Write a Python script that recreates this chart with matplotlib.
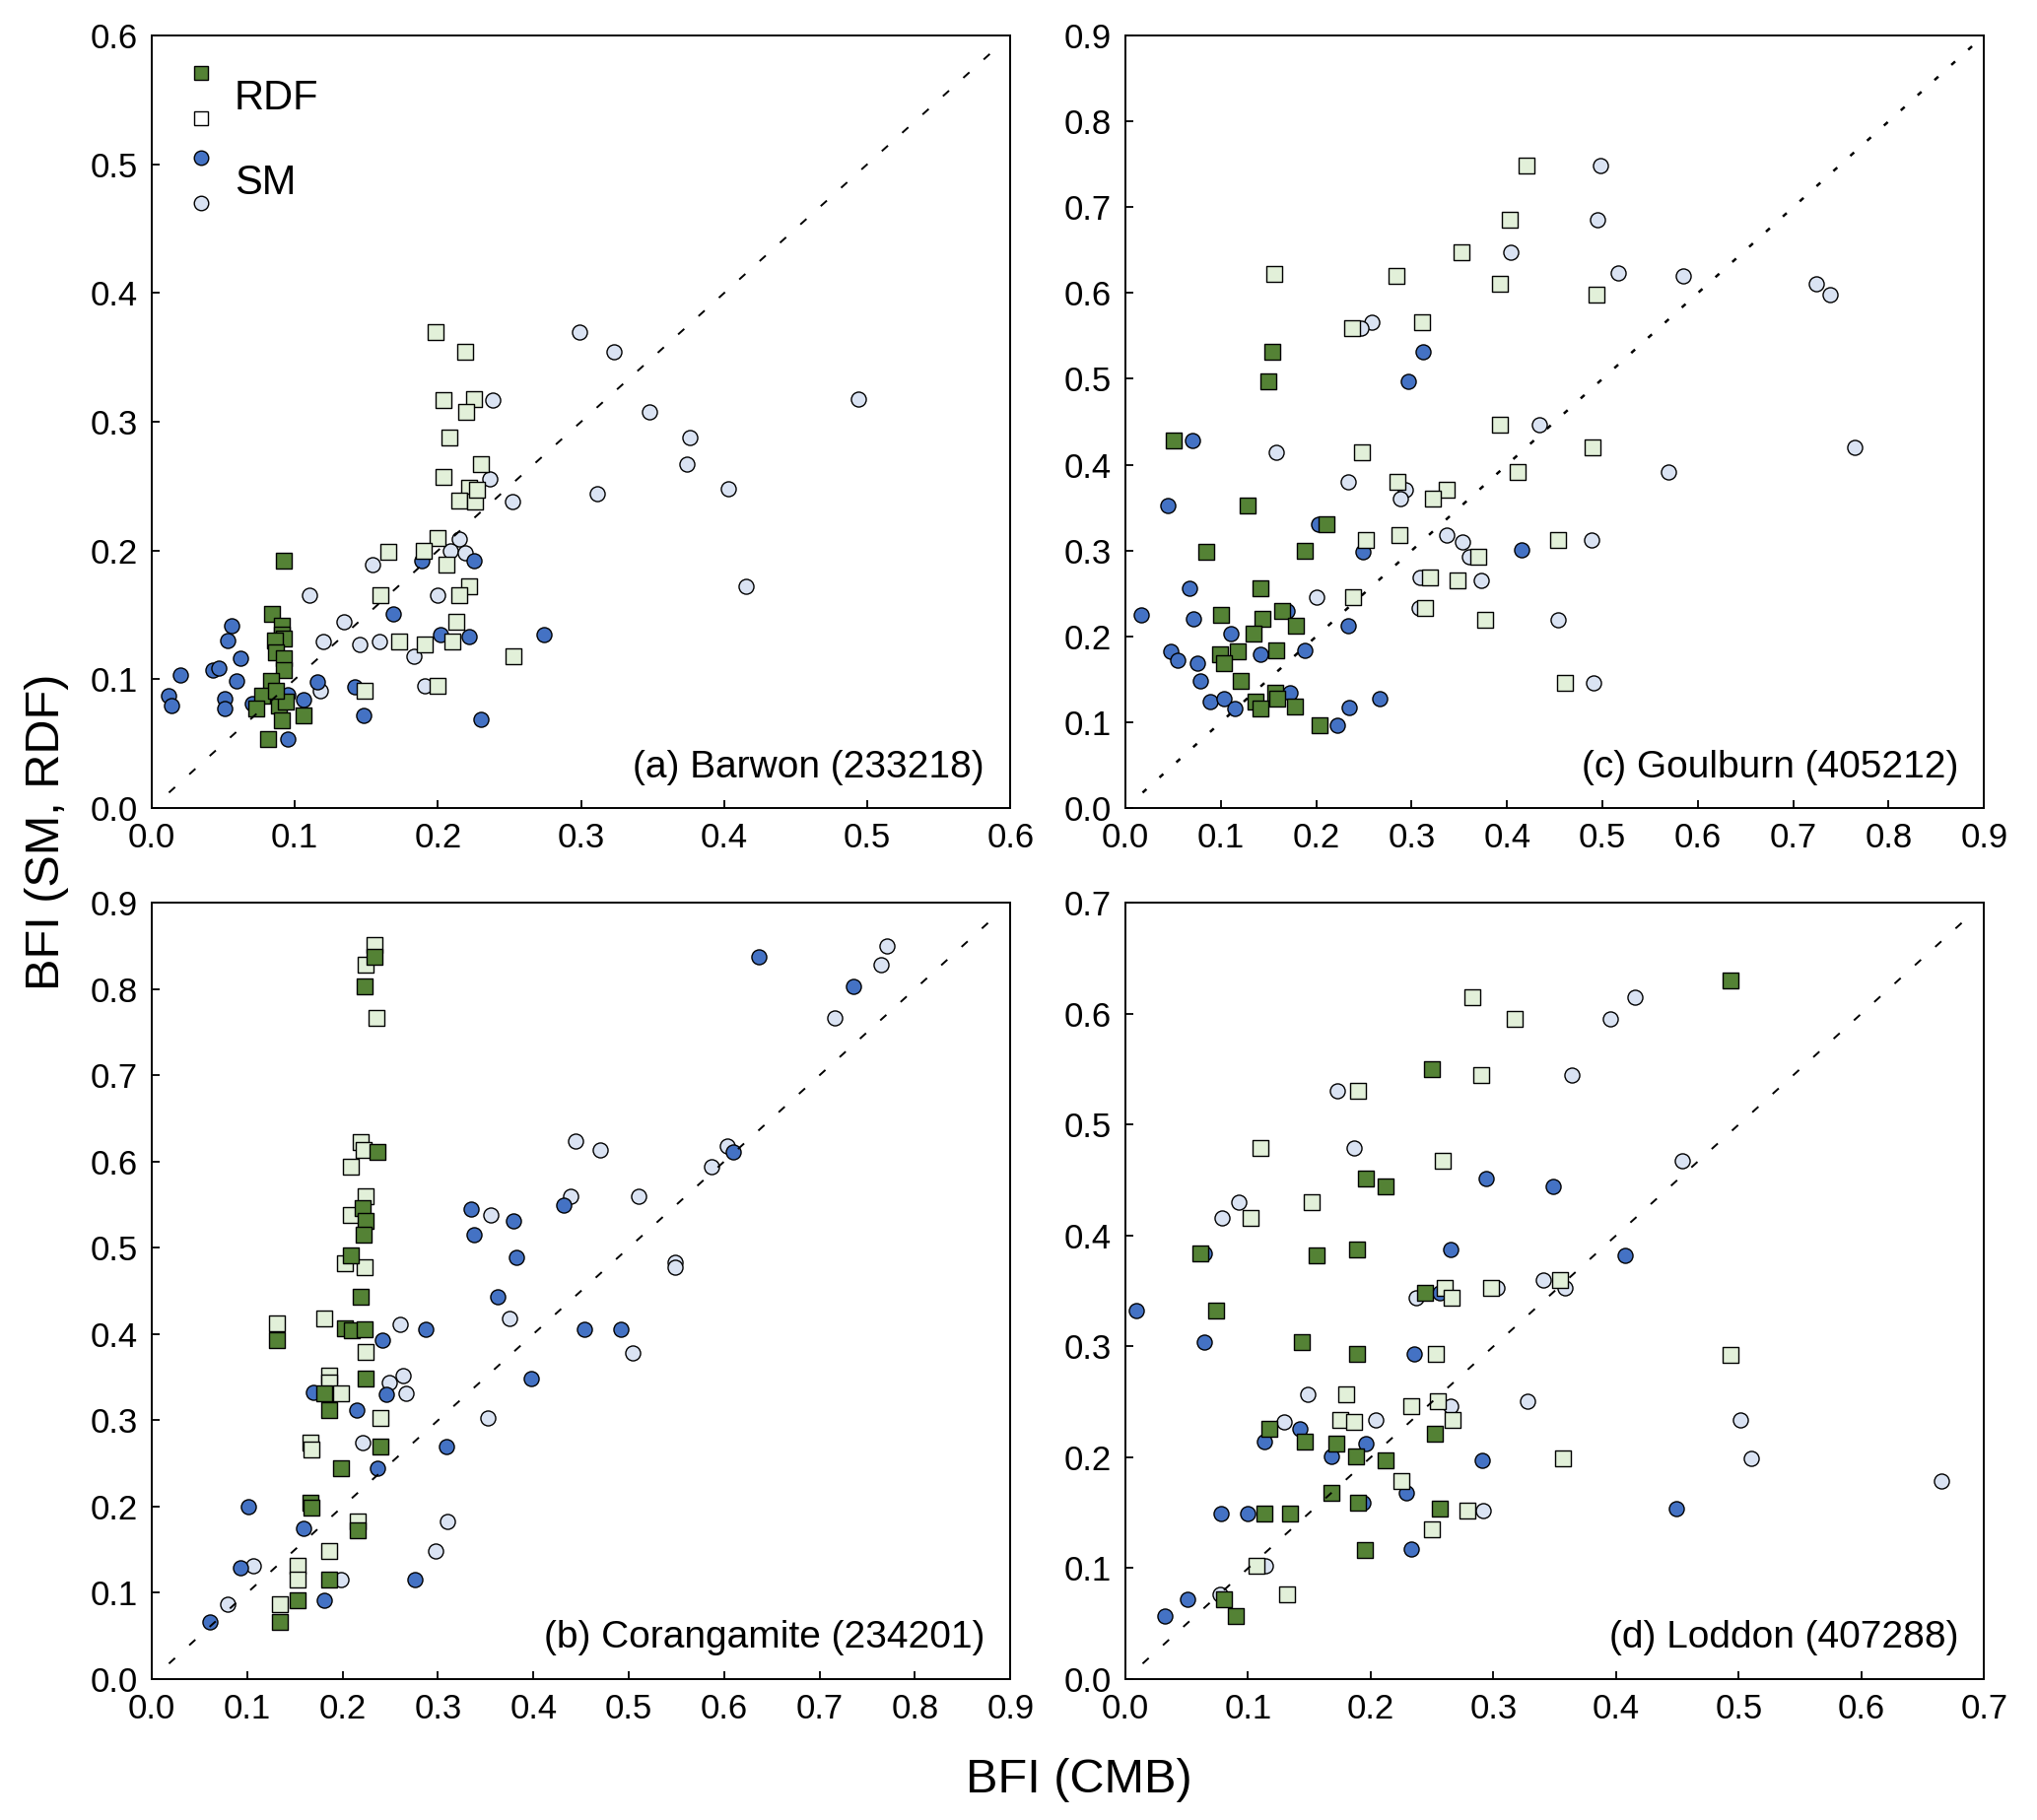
import numpy as np
import matplotlib
matplotlib.use("Agg")
import matplotlib.pyplot as plt
from matplotlib.lines import Line2D
from matplotlib.legend_handler import HandlerBase

plt.rcParams['font.family'] = ['Liberation Sans', 'DejaVu Sans']

# colours (excel-like)
GREEN = '#548235'
LGREEN = '#e2f0d9'
BLUE = '#4472c4'
LBLUE = '#dae3f3'

# ---- (a) Barwon
a_rdf_f_x = [0.092, 0.084, 0.091, 0.091, 0.092, 0.086, 0.087, 0.092, 0.092, 0.083, 0.077, 0.073, 0.089, 0.091, 0.081, 0.106, 0.094, 0.087]
a_rdf_f_y = [0.192, 0.151, 0.142, 0.135, 0.132, 0.130, 0.121, 0.116, 0.107, 0.099, 0.087, 0.077, 0.080, 0.068, 0.054, 0.072, 0.083, 0.091]
a_rdf_o_x = [0.198, 0.219, 0.204, 0.225, 0.220, 0.208, 0.230, 0.204, 0.222, 0.215, 0.226, 0.227, 0.200, 0.190, 0.165, 0.206, 0.222, 0.215, 0.160, 0.213, 0.173, 0.191, 0.210, 0.253, 0.200, 0.149]
a_rdf_o_y = [0.370, 0.354, 0.317, 0.318, 0.308, 0.288, 0.267, 0.257, 0.249, 0.239, 0.238, 0.247, 0.210, 0.200, 0.199, 0.189, 0.172, 0.165, 0.165, 0.145, 0.129, 0.127, 0.129, 0.118, 0.095, 0.091]
a_sm_o_x = [0.299, 0.323, 0.238, 0.494, 0.348, 0.376, 0.374, 0.236, 0.252, 0.311, 0.403, 0.415, 0.215, 0.209, 0.219, 0.154, 0.200, 0.110, 0.134, 0.120, 0.145, 0.159, 0.183, 0.191, 0.118]
a_sm_o_y = [0.370, 0.354, 0.317, 0.318, 0.308, 0.288, 0.267, 0.256, 0.238, 0.244, 0.248, 0.172, 0.209, 0.200, 0.198, 0.189, 0.165, 0.165, 0.145, 0.129, 0.127, 0.129, 0.118, 0.095, 0.091]
a_sm_f_x = [0.012, 0.014, 0.020, 0.043, 0.047, 0.056, 0.053, 0.062, 0.059, 0.051, 0.051, 0.070, 0.095, 0.095, 0.106, 0.116, 0.142, 0.148, 0.169, 0.189, 0.225, 0.202, 0.222, 0.274, 0.230]
a_sm_f_y = [0.087, 0.080, 0.103, 0.107, 0.109, 0.142, 0.130, 0.116, 0.099, 0.085, 0.077, 0.081, 0.088, 0.054, 0.084, 0.098, 0.094, 0.072, 0.151, 0.192, 0.192, 0.135, 0.133, 0.135, 0.069]

# ---- (b) Corangamite
b_rdf_f_x = [0.233, 0.223, 0.237, 0.221, 0.224, 0.222, 0.209, 0.219, 0.202, 0.210, 0.223, 0.131, 0.224, 0.181, 0.186, 0.240, 0.198, 0.166, 0.167, 0.216, 0.186, 0.153, 0.134]
b_rdf_f_y = [0.837, 0.803, 0.611, 0.546, 0.531, 0.515, 0.491, 0.443, 0.407, 0.404, 0.405, 0.393, 0.349, 0.331, 0.312, 0.270, 0.244, 0.204, 0.199, 0.172, 0.115, 0.091, 0.066]
b_rdf_o_x = [0.233, 0.224, 0.236, 0.219, 0.222, 0.209, 0.224, 0.209, 0.202, 0.223, 0.131, 0.181, 0.224, 0.186, 0.186, 0.198, 0.240, 0.166, 0.167, 0.216, 0.186, 0.153, 0.153, 0.134]
b_rdf_o_y = [0.851, 0.828, 0.767, 0.623, 0.613, 0.594, 0.560, 0.538, 0.482, 0.478, 0.412, 0.418, 0.379, 0.352, 0.344, 0.331, 0.303, 0.274, 0.266, 0.183, 0.148, 0.131, 0.115, 0.087]
b_sm_o_x = [0.771, 0.764, 0.716, 0.444, 0.470, 0.603, 0.587, 0.439, 0.510, 0.355, 0.549, 0.549, 0.375, 0.260, 0.504, 0.263, 0.249, 0.267, 0.352, 0.221, 0.310, 0.298, 0.106, 0.198, 0.080]
b_sm_o_y = [0.850, 0.828, 0.767, 0.624, 0.613, 0.618, 0.594, 0.560, 0.560, 0.538, 0.483, 0.478, 0.418, 0.411, 0.378, 0.352, 0.344, 0.331, 0.303, 0.274, 0.183, 0.148, 0.131, 0.115, 0.087]
b_sm_f_x = [0.636, 0.736, 0.609, 0.432, 0.335, 0.379, 0.338, 0.382, 0.363, 0.287, 0.454, 0.492, 0.242, 0.398, 0.169, 0.246, 0.215, 0.309, 0.237, 0.101, 0.159, 0.093, 0.276, 0.181, 0.061]
b_sm_f_y = [0.837, 0.803, 0.611, 0.550, 0.545, 0.531, 0.515, 0.489, 0.443, 0.405, 0.405, 0.406, 0.393, 0.349, 0.332, 0.330, 0.312, 0.270, 0.244, 0.200, 0.175, 0.129, 0.115, 0.091, 0.066]

# ---- (c) Goulburn
c_rdf_f_x = [0.051, 0.154, 0.150, 0.128, 0.085, 0.188, 0.211, 0.142, 0.100, 0.144, 0.164, 0.179, 0.134, 0.118, 0.158, 0.099, 0.103, 0.121, 0.136, 0.142, 0.157, 0.159, 0.178, 0.203]
c_rdf_f_y = [0.428, 0.531, 0.497, 0.353, 0.299, 0.300, 0.331, 0.256, 0.225, 0.220, 0.230, 0.212, 0.203, 0.183, 0.184, 0.179, 0.169, 0.148, 0.124, 0.116, 0.134, 0.127, 0.118, 0.097]
c_rdf_o_x = [0.420, 0.403, 0.352, 0.156, 0.284, 0.393, 0.494, 0.311, 0.238, 0.393, 0.248, 0.490, 0.411, 0.285, 0.337, 0.322, 0.252, 0.287, 0.453, 0.370, 0.319, 0.348, 0.239, 0.314, 0.377, 0.461]
c_rdf_o_y = [0.748, 0.685, 0.648, 0.622, 0.620, 0.611, 0.598, 0.566, 0.559, 0.447, 0.415, 0.420, 0.391, 0.380, 0.371, 0.361, 0.312, 0.318, 0.312, 0.293, 0.269, 0.265, 0.246, 0.233, 0.219, 0.146]
c_sm_o_x = [0.498, 0.495, 0.404, 0.516, 0.585, 0.724, 0.739, 0.258, 0.247, 0.434, 0.158, 0.764, 0.569, 0.233, 0.293, 0.288, 0.337, 0.353, 0.360, 0.489, 0.309, 0.373, 0.200, 0.308, 0.453, 0.491]
c_sm_o_y = [0.748, 0.685, 0.648, 0.623, 0.620, 0.611, 0.598, 0.566, 0.559, 0.447, 0.415, 0.420, 0.391, 0.380, 0.371, 0.361, 0.318, 0.310, 0.293, 0.312, 0.269, 0.265, 0.246, 0.233, 0.219, 0.146]
c_sm_f_x = [0.070, 0.312, 0.296, 0.044, 0.202, 0.249, 0.415, 0.067, 0.071, 0.016, 0.169, 0.233, 0.111, 0.048, 0.141, 0.188, 0.055, 0.075, 0.078, 0.089, 0.103, 0.115, 0.173, 0.234, 0.267, 0.222]
c_sm_f_y = [0.428, 0.531, 0.497, 0.353, 0.331, 0.299, 0.301, 0.256, 0.220, 0.225, 0.230, 0.212, 0.203, 0.183, 0.179, 0.184, 0.172, 0.169, 0.148, 0.124, 0.127, 0.116, 0.134, 0.117, 0.128, 0.097]

# ---- (d) Loddon
d_rdf_f_x = [0.493, 0.250, 0.196, 0.212, 0.061, 0.156, 0.189, 0.244, 0.074, 0.144, 0.189, 0.117, 0.146, 0.172, 0.188, 0.212, 0.252, 0.168, 0.190, 0.256, 0.113, 0.134, 0.195, 0.080, 0.090]
d_rdf_f_y = [0.630, 0.550, 0.451, 0.444, 0.384, 0.382, 0.387, 0.348, 0.332, 0.304, 0.293, 0.226, 0.214, 0.212, 0.201, 0.197, 0.221, 0.168, 0.159, 0.154, 0.149, 0.149, 0.116, 0.072, 0.057]
d_rdf_o_x = [0.283, 0.317, 0.290, 0.190, 0.110, 0.259, 0.152, 0.102, 0.260, 0.266, 0.298, 0.354, 0.253, 0.493, 0.180, 0.233, 0.255, 0.175, 0.186, 0.267, 0.357, 0.225, 0.279, 0.250, 0.107, 0.132]
d_rdf_o_y = [0.615, 0.595, 0.545, 0.530, 0.479, 0.467, 0.430, 0.416, 0.353, 0.344, 0.353, 0.360, 0.293, 0.292, 0.257, 0.246, 0.251, 0.234, 0.232, 0.234, 0.199, 0.179, 0.152, 0.135, 0.102, 0.076]
d_sm_o_x = [0.415, 0.395, 0.364, 0.173, 0.186, 0.454, 0.092, 0.079, 0.237, 0.303, 0.341, 0.358, 0.149, 0.265, 0.328, 0.129, 0.204, 0.501, 0.510, 0.665, 0.292, 0.114, 0.077]
d_sm_o_y = [0.615, 0.595, 0.545, 0.530, 0.479, 0.467, 0.430, 0.416, 0.344, 0.353, 0.360, 0.353, 0.257, 0.246, 0.251, 0.232, 0.234, 0.234, 0.199, 0.179, 0.152, 0.102, 0.076]
d_sm_f_x = [0.294, 0.349, 0.265, 0.407, 0.064, 0.256, 0.009, 0.064, 0.235, 0.142, 0.113, 0.196, 0.168, 0.291, 0.229, 0.194, 0.449, 0.078, 0.100, 0.233, 0.051, 0.032]
d_sm_f_y = [0.451, 0.444, 0.387, 0.382, 0.384, 0.348, 0.332, 0.304, 0.293, 0.226, 0.214, 0.212, 0.201, 0.197, 0.168, 0.159, 0.154, 0.149, 0.149, 0.117, 0.072, 0.057]

titles = ['(a) Barwon (233218)', '(b) Corangamite (234201)',
          '(c) Goulburn (405212)', '(d) Loddon (407288)']
limits = [0.6, 0.9, 0.9, 0.7]


class PairHandler(HandlerBase):
    # two markers stacked above each other, one label
    def create_artists(self, legend, orig_handle, xdescent, ydescent,
                       width, height, fontsize, trans):
        top, bot = orig_handle
        xc = width / 2 - xdescent
        yc = height / 2 - ydescent
        out = []
        for h, dy in ((top, 16.5), (bot, -16.5)):
            m = Line2D([xc], [yc + dy], linestyle='')
            m.update_from(h)
            m.set_transform(trans)
            out.append(m)
        return out


fig = plt.figure(figsize=(20.67, 18.47), dpi=100)
pos = [[0.0745, 0.556, 0.4215, 0.4245],
       [0.0745, 0.0774, 0.4215, 0.4266],
       [0.5525, 0.556, 0.4215, 0.4245],
       [0.5525, 0.0774, 0.4215, 0.4266]]

data = [
    (a_rdf_f_x, a_rdf_f_y, a_rdf_o_x, a_rdf_o_y, a_sm_f_x, a_sm_f_y, a_sm_o_x, a_sm_o_y),
    (b_rdf_f_x, b_rdf_f_y, b_rdf_o_x, b_rdf_o_y, b_sm_f_x, b_sm_f_y, b_sm_o_x, b_sm_o_y),
    (c_rdf_f_x, c_rdf_f_y, c_rdf_o_x, c_rdf_o_y, c_sm_f_x, c_sm_f_y, c_sm_o_x, c_sm_o_y),
    (d_rdf_f_x, d_rdf_f_y, d_rdf_o_x, d_rdf_o_y, d_sm_f_x, d_sm_f_y, d_sm_o_x, d_sm_o_y),
]

MS = 118  # marker area

for i in range(4):
    ax = fig.add_axes(pos[i])
    rfx, rfy, rox, roy, sfx, sfy, sox, soy = data[i]
    lim = limits[i]

    # 1:1 line (drawn over the points, as in the original)
    one = [0.02 * lim, 0.99 * lim]
    if i == 2:
        ax.plot(one, one, color='k', lw=1.8, linestyle=(0, (2.1, 7.1)), zorder=6)
    else:
        ax.plot(one, one, color='k', lw=1.4, linestyle=(0, (4.3, 10)), zorder=6)

    ax.scatter(sox, soy, s=MS, marker='o', facecolor=LBLUE, edgecolor='k', linewidth=1.0, zorder=2)
    ax.scatter(sfx, sfy, s=MS, marker='o', facecolor=BLUE, edgecolor='k', linewidth=1.0, zorder=3)
    ax.scatter(rox, roy, s=MS, marker='s', facecolor=LGREEN, edgecolor='k', linewidth=1.0, zorder=4)
    ax.scatter(rfx, rfy, s=MS, marker='s', facecolor=GREEN, edgecolor='k', linewidth=1.0, zorder=5)

    ax.set_xlim(0, lim)
    ax.set_ylim(0, lim)
    ticks = np.round(np.arange(0, lim + 0.001, 0.1), 1)
    ax.set_xticks(ticks)
    ax.set_yticks(ticks)
    ax.set_xticklabels(['%.1f' % t for t in ticks])
    ax.set_yticklabels(['%.1f' % t for t in ticks])
    ax.tick_params(direction='in', length=6, width=1.3, labelsize=25, pad=10)
    for sp in ax.spines.values():
        sp.set_linewidth(1.4)

    ax.text(0.97, 0.03, titles[i], transform=ax.transAxes, ha='right',
            va='bottom', fontsize=28)

    if i == 0:
        h1 = Line2D([], [], marker='s', markersize=10.5, markerfacecolor=GREEN,
                    markeredgecolor='k', markeredgewidth=1.0, linestyle='')
        h2 = Line2D([], [], marker='s', markersize=10.5, markerfacecolor='white',
                    markeredgecolor='k', markeredgewidth=1.0, linestyle='')
        h3 = Line2D([], [], marker='o', markersize=10.5, markerfacecolor=BLUE,
                    markeredgecolor='k', markeredgewidth=1.0, linestyle='')
        h4 = Line2D([], [], marker='o', markersize=10.5, markerfacecolor=LBLUE,
                    markeredgecolor='k', markeredgewidth=1.0, linestyle='')
        ax.legend([(h1, h2), (h3, h4)], ['RDF', 'SM'],
                  handler_map={tuple: PairHandler()},
                  loc='upper left', bbox_to_anchor=(0.034, 0.946),
                  frameon=False, fontsize=30, handlelength=1.0,
                  handleheight=1.0, handletextpad=0.3, labelspacing=1.05,
                  borderpad=0, borderaxespad=0)

fig.text(0.5295, 0.022, 'BFI (CMB)', ha='center', va='center', fontsize=35)
fig.text(0.023, 0.543, 'BFI (SM, RDF)', ha='center', va='center',
         rotation=90, fontsize=35)

fig.savefig('out.png', dpi=100)
